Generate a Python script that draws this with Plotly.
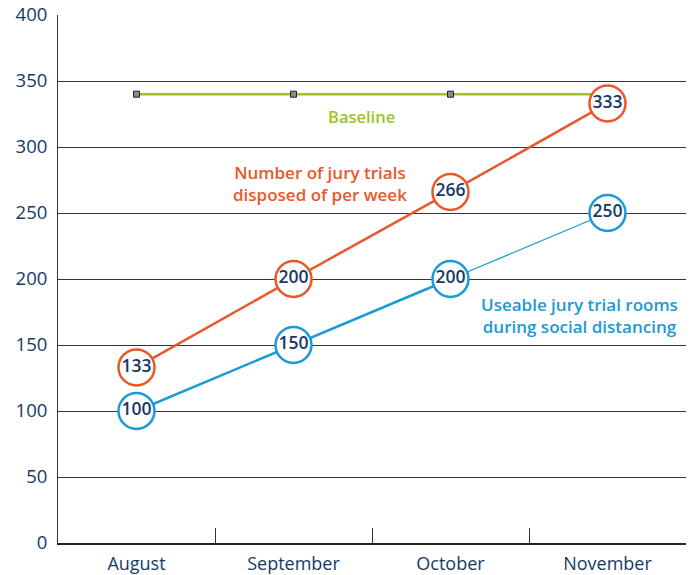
import plotly.graph_objects as go

months = ["August", "September", "October", "November"]
jury_trials = [133, 200, 266, 333]
trial_rooms = [100, 150, 200, 250]
baseline = [340, 340, 340, 340]
y_ticks = [0, 50, 100, 150, 200, 250, 300, 350, 400]

ORANGE = "#e8582a"
BLUE = "#1a9ad6"
GREEN = "#9cc41e"
NAVY = "#163a66"
FONT = "Open Sans"

fig = go.Figure()

# Baseline
fig.add_trace(go.Scatter(
    x=months, y=baseline, mode="lines+markers",
    line=dict(color=GREEN, width=2.5),
    marker=dict(symbol="square", size=6, color="#8a8a8a", line=dict(color="#222", width=1)),
    hoverinfo="skip", showlegend=False))

# Orange line
fig.add_trace(go.Scatter(
    x=months, y=jury_trials, mode="lines",
    line=dict(color=ORANGE, width=2.5), showlegend=False, hoverinfo="skip"))

# Blue line: thick for first three points, thin for last segment
fig.add_trace(go.Scatter(
    x=months[:3], y=trial_rooms[:3], mode="lines",
    line=dict(color=BLUE, width=2.5), showlegend=False, hoverinfo="skip"))
fig.add_trace(go.Scatter(
    x=months[2:], y=trial_rooms[2:], mode="lines",
    line=dict(color=BLUE, width=1.2), showlegend=False, hoverinfo="skip"))

# Circles with values
fig.add_trace(go.Scatter(
    x=months, y=jury_trials, mode="markers+text",
    marker=dict(symbol="circle", size=36, color="white", line=dict(color=ORANGE, width=2.5)),
    text=[str(v) for v in jury_trials], textposition="middle center",
    textfont=dict(family=FONT, size=17.5, color=NAVY, weight=600),
    showlegend=False))
fig.add_trace(go.Scatter(
    x=months, y=trial_rooms, mode="markers+text",
    marker=dict(symbol="circle", size=36, color="white", line=dict(color=BLUE, width=2.5)),
    text=[str(v) for v in trial_rooms], textposition="middle center",
    textfont=dict(family=FONT, size=17.5, color=NAVY, weight=600),
    showlegend=False))

annotations = [
    dict(x=1.43, y=323, xref="x", yref="y", text="Baseline", showarrow=False,
         font=dict(family=FONT, size=16.5, color=GREEN, weight=600)),
    dict(x=1.17, y=272, xref="x", yref="y",
         text="Number of jury trials<br>disposed of per week", showarrow=False,
         font=dict(family=FONT, size=17, color=ORANGE, weight=600)),
    dict(x=2.82, y=172, xref="x", yref="y",
         text="Useable jury trial rooms<br>during social distancing", showarrow=False,
         font=dict(family=FONT, size=17, color=BLUE, weight=600)),
]

fig.update_layout(
    width=693, height=575,
    margin=dict(l=58, r=7, t=15, b=32, autoexpand=False),
    paper_bgcolor="white", plot_bgcolor="white",
    font=dict(family=FONT, color=NAVY),
    annotations=annotations,
    xaxis=dict(
        type="category", categoryorder="array", categoryarray=months,
        range=[-0.5, 3.5], tickson="boundaries", ticks="inside", ticklen=15,
        tickcolor="#333", tickwidth=1, showgrid=False, zeroline=False,
        showline=True, linecolor="#222", linewidth=1.5, automargin=False,
        tickfont=dict(family=FONT, size=18, color=NAVY),
        ticklabelstandoff=4,
    ),
    yaxis=dict(
        range=[0, 400], tickvals=y_ticks, ticks="", showgrid=True,
        gridcolor="#333", gridwidth=1, zeroline=False, automargin=False,
        showline=True, linecolor="#333", linewidth=1,
        tickfont=dict(family=FONT, size=18.5, color=NAVY),
        ticklabelstandoff=6,
    ),
)

fig.write_html("out.html", config={"displayModeBar": False},
               post_script="document.body.style.margin='0';")
